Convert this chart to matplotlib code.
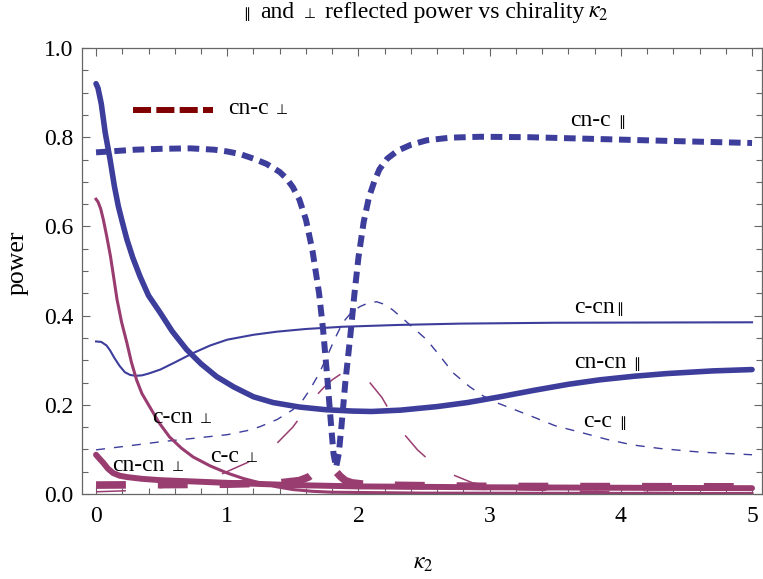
import matplotlib
matplotlib.use('Agg')
import matplotlib.pyplot as plt
from matplotlib.ticker import MultipleLocator, FormatStrFormatter

plt.rcParams['font.family'] = ['Liberation Serif', 'DejaVu Serif', 'DejaVu Sans']
plt.rcParams['mathtext.fontset'] = 'stix'
plt.rcParams['lines.scale_dashes'] = False

BLUE = '#3d3d9c'
MAGENTA = '#993d71'
DARKRED = '#800000'

# cn-c parallel (thick dashed blue)
cnc_par_x = [0, 0.15, 0.3, 0.5, 0.72, 0.9, 1.0, 1.1, 1.2, 1.3, 1.4, 1.45, 1.5, 1.55, 1.6, 1.65, 1.7,
             1.73, 1.76, 1.79, 1.81, 1.83, 1.85, 1.87, 1.9, 1.94, 1.97, 2.0, 2.04, 2.08, 2.12, 2.16,
             2.22, 2.3, 2.4, 2.52, 2.7, 2.93, 3.3, 3.69, 4.45, 5.0]
cnc_par_y = [0.766, 0.769, 0.772, 0.774, 0.775, 0.772, 0.768, 0.762, 0.752, 0.74, 0.722, 0.708, 0.688,
             0.66, 0.615, 0.545, 0.45, 0.37, 0.27, 0.16, 0.09, 0.06, 0.09, 0.15, 0.25, 0.36, 0.45, 0.53,
             0.61, 0.665, 0.7, 0.728, 0.752, 0.77, 0.783, 0.793, 0.799, 0.801, 0.80, 0.797, 0.791, 0.787]

# cn-cn parallel (thick solid blue)
cncn_par_x = [0, 0.015, 0.04, 0.07, 0.107, 0.14, 0.17, 0.2, 0.235, 0.28, 0.335, 0.4, 0.49, 0.58, 0.69,
              0.8, 0.92, 1.05, 1.2, 1.35, 1.55, 1.75, 1.95, 2.1, 2.32, 2.6, 2.83, 3.08, 3.33, 3.6, 3.84,
              4.1, 4.35, 4.7, 5.0]
cncn_par_y = [0.92, 0.91, 0.875, 0.81, 0.75, 0.69, 0.645, 0.61, 0.571, 0.53, 0.488, 0.445, 0.406, 0.365,
              0.324, 0.292, 0.263, 0.24, 0.218, 0.205, 0.195, 0.189, 0.186, 0.185, 0.188, 0.196, 0.205,
              0.218, 0.232, 0.246, 0.256, 0.264, 0.27, 0.276, 0.279]

# c-cn parallel (thin solid blue)
ccn_par_x = [0, 0.04, 0.08, 0.107, 0.14, 0.18, 0.22, 0.26, 0.3, 0.35, 0.4, 0.49, 0.6, 0.74, 0.87, 1.0,
             1.2, 1.38, 1.6, 1.88, 2.3, 2.77, 3.5, 5.0]
ccn_par_y = [0.342, 0.341, 0.333, 0.322, 0.305, 0.287, 0.273, 0.267, 0.265, 0.266, 0.27, 0.279, 0.295,
             0.316, 0.333, 0.346, 0.357, 0.364, 0.37, 0.375, 0.379, 0.382, 0.384, 0.385]

# c-c parallel (thin dashed blue)
cc_par_x = [0, 0.25, 0.49, 0.75, 1.0, 1.15, 1.25, 1.38, 1.5, 1.57, 1.63, 1.7, 1.76, 1.82, 1.88, 1.94,
            2.01, 2.08, 2.14, 2.2, 2.26, 2.32, 2.42, 2.52, 2.62, 2.72, 2.85, 2.95, 3.06, 3.2, 3.33, 3.5,
            3.71, 3.9, 4.09, 4.3, 4.6, 5.0]
cc_par_y = [0.099, 0.108, 0.117, 0.125, 0.133, 0.142, 0.151, 0.167, 0.189, 0.208, 0.234, 0.27, 0.308,
            0.348, 0.384, 0.405, 0.42, 0.429, 0.431, 0.425, 0.413, 0.398, 0.372, 0.346, 0.31, 0.272, 0.24,
            0.22, 0.204, 0.188, 0.173, 0.153, 0.137, 0.122, 0.11, 0.102, 0.094, 0.088]

# c-cn perpendicular (medium solid magenta)
ccn_perp_x = [0, 0.015, 0.035, 0.055, 0.08, 0.11, 0.135, 0.16, 0.195, 0.235, 0.27, 0.31, 0.35, 0.41,
              0.48, 0.56, 0.65, 0.74, 0.87, 1.0, 1.12, 1.25, 1.38, 1.5, 1.65, 1.8, 2.5, 5.0]
ccn_perp_y = [0.661, 0.655, 0.64, 0.616, 0.58, 0.533, 0.485, 0.436, 0.385, 0.339, 0.295, 0.255, 0.225,
              0.195, 0.16, 0.128, 0.103, 0.083, 0.063, 0.047, 0.035, 0.025, 0.016, 0.01, 0.006, 0.004,
              0.002, 0.001]

# cn-cn perpendicular (thick solid magenta)
cncn_perp_x = [0, 0.03, 0.055, 0.09, 0.13, 0.18, 0.235, 0.35, 0.49, 0.75, 1.0, 1.5, 2.0, 3.0, 5.0]
cncn_perp_y = [0.088, 0.078, 0.07, 0.057, 0.047, 0.041, 0.038, 0.034, 0.031, 0.028, 0.025, 0.02, 0.017,
               0.015, 0.013]

# cn-c perpendicular (thick dashed magenta)
cnc_perp_x = [0, 1.0, 1.4, 1.55, 1.62, 1.67, 1.75, 1.8, 1.86, 1.9, 1.95, 2.1, 3.0, 5.0]
cnc_perp_y = [0.02, 0.022, 0.025, 0.03, 0.038, 0.05, 0.062, 0.06, 0.04, 0.03, 0.025, 0.02, 0.017, 0.016]

# c-c perpendicular (thin long-dashed magenta)
cc_perp_x = [0, 0.3, 0.6, 0.92, 1.15, 1.35, 1.5, 1.6, 1.67, 1.74, 1.8, 1.86, 1.92, 1.98, 2.04, 2.1,
             2.18, 2.25, 2.32, 2.45, 2.56, 2.67, 2.87, 3.2, 4.0, 5.0]
cc_perp_y = [0.005, 0.008, 0.018, 0.04, 0.07, 0.105, 0.15, 0.19, 0.218, 0.24, 0.256, 0.268, 0.275,
             0.274, 0.267, 0.245, 0.216, 0.18, 0.144, 0.099, 0.07, 0.049, 0.025, 0.01, 0.004, 0.002]

PAR = '\u2225'
PERP = '\u22a5'


def label(ax, x, y, text, sym, gap):
    t = ax.text(x, y, text, fontsize=17, va='baseline', ha='left')
    ax.annotate(sym, xy=(1, y), xycoords=(t, 'data'), xytext=(gap, 0), textcoords='offset points',
                fontsize=10, family='DejaVu Sans', va='baseline', ha='left')


fig = plt.figure(figsize=(7.63, 5.79), dpi=100)
ax = fig.add_axes([82 / 763, 85 / 579, 680 / 763, 446 / 579])

ax.plot(cc_perp_x, cc_perp_y, color=MAGENTA, lw=1.1, dashes=(21.5, 24.5))
ax.plot(cc_par_x, cc_par_y, color=BLUE, lw=1.0, dashes=(6.5, 6.5))
ax.plot(ccn_par_x, ccn_par_y, color=BLUE, lw=1.5)
ax.plot(ccn_perp_x, ccn_perp_y, color=MAGENTA, lw=2.2)
ax.plot(cncn_perp_x, cncn_perp_y, color=MAGENTA, lw=4.3, solid_capstyle='round')
ax.plot(cnc_perp_x, cnc_perp_y, color=MAGENTA, lw=5.5, dashes=(21.5, 23))
ax.plot(cncn_par_x, cncn_par_y, color=BLUE, lw=4.0, solid_capstyle='round')
ax.plot(cnc_par_x, cnc_par_y, color=BLUE, lw=4.3, dashes=(8.4, 4.8))

# key line for cn-c perp
ax.plot([0.282, 0.892], [0.862, 0.862], color=DARKRED, lw=4.3, dashes=(13, 3.8))
label(ax, 1.006, 0.853, 'cn-c', PERP, 5)

label(ax, 3.613, 0.826, 'cn-c', PAR, 5)
label(ax, 3.643, 0.405, 'c-cn', PAR, 1)
label(ax, 3.643, 0.282, 'cn-cn', PAR, 5)
label(ax, 3.712, 0.150, 'c-c', PAR, 5)
label(ax, 0.427, 0.159, 'c-cn', PERP, 5)
label(ax, 0.869, 0.0716, 'c-c', PERP, 5)
label(ax, 0.122, 0.0515, 'cn-cn', PERP, 5)

ax.set_xlim(-0.107, 5.076)
ax.set_ylim(0, 1)
ax.xaxis.set_major_locator(MultipleLocator(1))
ax.xaxis.set_minor_locator(MultipleLocator(0.2))
ax.yaxis.set_major_locator(MultipleLocator(0.2))
ax.yaxis.set_minor_locator(MultipleLocator(0.05))
ax.yaxis.set_major_formatter(FormatStrFormatter('%.1f'))
ax.tick_params(which='both', direction='in', top=True, right=True, color='#666666', width=0.8,
               labelsize=17)
ax.tick_params(which='major', length=6)
ax.tick_params(which='minor', length=4)
ax.tick_params(axis='x', pad=9)
ax.tick_params(axis='y', pad=6)
for s in ax.spines.values():
    s.set_color('#666666')
    s.set_linewidth(0.9)

fig.text(423 / 763, 1 - 563 / 579, r'$\kappa_2$', fontsize=17, ha='center', va='center')
fig.text(18 / 763, 1 - 263 / 579, 'power', fontsize=18.5, rotation=90, ha='center', va='center')

# title, built from pieces so the symbols can be drawn smaller
yb = 1 - 18 / 579
t = fig.text(243 / 763, yb, PAR, fontsize=10, family='DejaVu Sans', va='baseline')
title_parts = [('and', 17, 7), (PERP, 10, 7), ('reflected power vs chirality', 17, 7),
               (r'$\kappa_2$', 17, 2)]
for txt, size, gap in title_parts:
    kw = {'family': 'DejaVu Sans'} if size == 10 else {}
    t = ax.annotate(txt, xy=(1, yb), xycoords=(t, 'figure fraction'), xytext=(gap, 0),
                    textcoords='offset points', fontsize=size, va='baseline', annotation_clip=False, **kw)

fig.savefig('out.png', dpi=100)
